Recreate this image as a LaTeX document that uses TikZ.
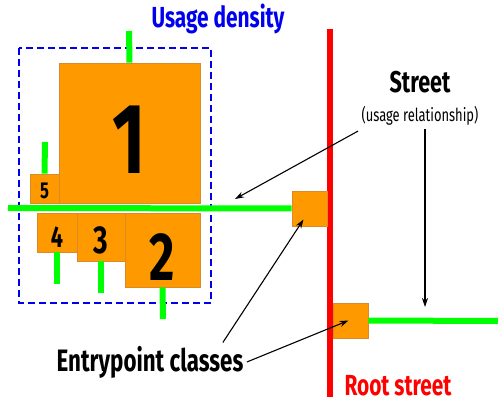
\documentclass[tikz,border=0pt]{standalone}
\usepackage{fontspec}
\setmainfont{Fira Sans}[FakeStretch=0.72]
\usetikzlibrary{arrows.meta,positioning}
\definecolor{boxorange}{HTML}{FF9900}
\definecolor{boxedge}{HTML}{D98A2B}
\definecolor{streetgreen}{HTML}{00FF00}
\definecolor{rootred}{HTML}{FF0000}
\definecolor{densityblue}{HTML}{0000EE}
\tikzset{
  classbox/.style={fill=boxorange, draw=boxedge, line width=0.8pt, inner sep=0pt},
  street/.style={streetgreen, line width=6pt},
  pointer/.style={-{Stealth[length=9pt,width=6pt]}, line width=1.1pt},
}
\newcommand{\fs}[1]{\fontsize{#1}{#1}\selectfont}
\begin{document}
\begin{tikzpicture}[x=1pt,y=-1pt]
    \useasboundingbox (0,0) rectangle (498,403);
    \draw[densityblue, line width=1.2pt, dash pattern=on 7pt off 4pt] (19,48) rectangle (211,303);
    \draw[rootred, line width=6pt] (330,29) coordinate (roottop) -- (330,397) coordinate (rootend);
    \node[classbox, minimum width=141, minimum height=140,
      label={[font=\bfseries\fs{100}, yshift=-7pt]center:1}] (c1) at (129.5,133) {};
    \node[classbox, minimum width=29, minimum height=29,
      label={[font=\bfseries\fs{23}, yshift=-2pt]center:5}] (c5) at (44.5,188.5) {};
    \node[classbox, minimum width=40, minimum height=39,
      label={[font=\bfseries\fs{30}, yshift=-5pt]center:4}] (c4) at (57,232.5) {};
    \node[classbox, minimum width=48, minimum height=48,
      label={[font=\bfseries\fs{39}, yshift=-3pt]center:3}] (c3) at (101,237) {};
    \node[classbox, minimum width=75, minimum height=74,
      label={[font=\bfseries\fs{68}, yshift=-7pt]center:2}] (c2) at (162.5,250) {};
    \node[classbox, minimum width=35, minimum height=35] (e1) at (309.5,208.5) {};
    \node[classbox, minimum width=35, minimum height=35] (e2) at (350.5,320.5) {};
    \coordinate (s1) at (129,31);
    \coordinate (s5) at (45,142);
    \coordinate (s4) at (57,284);
    \coordinate (s3) at (101,293);
    \coordinate (s2) at (163,319);
    \coordinate (westend) at (8,208);
    \coordinate (eastend) at (498,321);
    \draw[street] (s1) -- (c1.north);
    \draw[street] (s5) -- (c5.north);
    \draw[street] (s4) -- (c4.south);
    \draw[street] (s3) -- (c3.south);
    \draw[street] (s2) -- (c2.south);
    \draw[street] (westend) -- (e1.west);
    \draw[street] (e2.east) -- (eastend);
    \node[densityblue, font=\bfseries\fs{29}] (density) at (218,19) {Usage density};
    \node[font=\bfseries\fs{30}] (street) at (420,82) {Street};
    \node[font=\fs{18}] (relation) at (420,116) {(usage relationship)};
    \node[rootred, font=\bfseries\fs{29}] (root) at (398,386) {Root street};
    \node[font=\bfseries\fs{31}] (entry) at (150,362) {Entrypoint classes};
    \coordinate (hit) at (235,199);
    \coordinate (drop) at (425,307);
    \draw[pointer] ([yshift=-2pt]relation.south west) -- (hit);
    \draw[pointer] (relation.south -| drop) -- (drop);
    \draw[pointer] ([xshift=-24]entry.north east) -- ([shift={(-6,11)}]e1.center);
    \draw[pointer] (entry.east) -- ([xshift=-2]e2.center);
\end{tikzpicture}
\end{document}
